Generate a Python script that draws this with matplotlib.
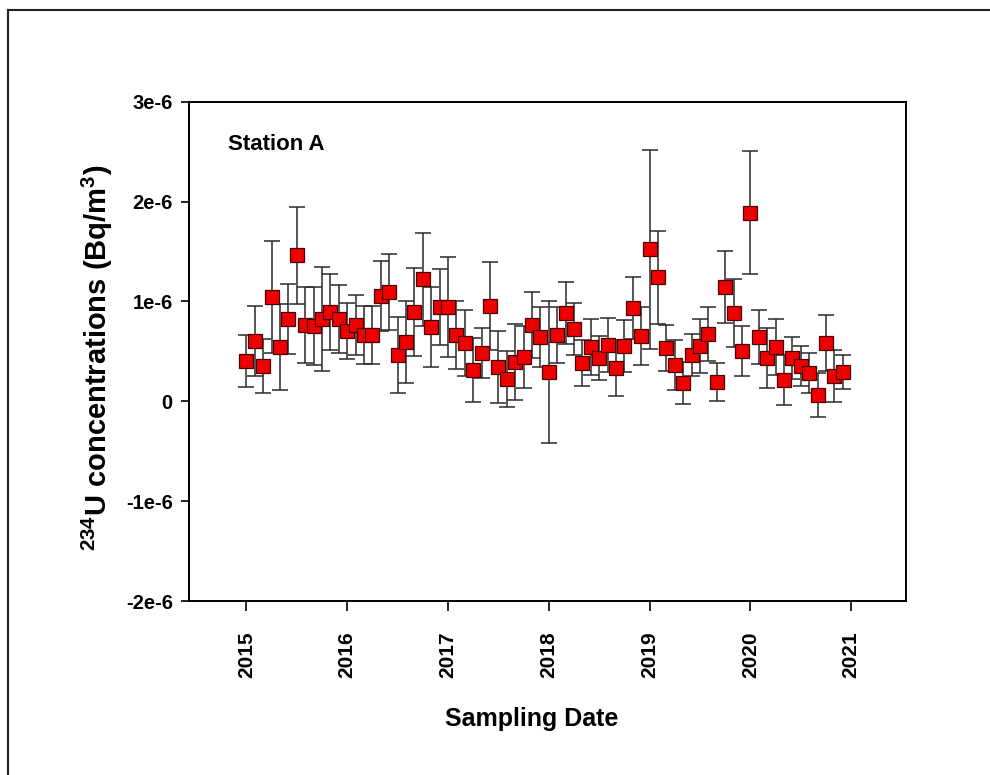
"""Station A 234U monthly concentrations with error bars."""
import numpy as np
import matplotlib
matplotlib.use("Agg")
import matplotlib.pyplot as plt
from matplotlib.lines import Line2D

plt.rcParams["font.family"] = ["Liberation Sans", "DejaVu Sans"]
plt.rcParams["font.weight"] = "bold"
plt.rcParams["mathtext.default"] = "regular"

# monthly samples, Jan 2015 .. Dec 2020 (values and 1-sigma in 1e-6 Bq/m3)
years = [2015, 2016, 2017, 2018, 2019, 2020]
conc_e6 = [
    0.40, 0.60, 0.35, 1.04, 0.54, 0.82, 1.46, 0.76, 0.75, 0.82, 0.89, 0.82,
    0.70, 0.76, 0.66, 0.66, 1.05, 1.09, 0.46, 0.59, 0.89, 1.22, 0.74, 0.94,
    0.94, 0.66, 0.58, 0.31, 0.48, 0.95, 0.34, 0.22, 0.39, 0.44, 0.76, 0.64,
    0.29, 0.66, 0.88, 0.72, 0.38, 0.54, 0.43, 0.56, 0.33, 0.55, 0.93, 0.65,
    1.52, 1.24, 0.53, 0.36, 0.18, 0.46, 0.55, 0.67, 0.19, 1.14, 0.88, 0.50,
    1.89, 0.64, 0.43, 0.54, 0.21, 0.43, 0.35, 0.28, 0.06, 0.58, 0.25, 0.29,
]
err_e6 = [
    0.26, 0.35, 0.27, 0.56, 0.43, 0.35, 0.49, 0.38, 0.39, 0.52, 0.38, 0.34,
    0.28, 0.30, 0.29, 0.29, 0.35, 0.38, 0.38, 0.41, 0.44, 0.47, 0.40, 0.38,
    0.50, 0.34, 0.33, 0.32, 0.25, 0.44, 0.36, 0.28, 0.38, 0.31, 0.33, 0.30,
    0.71, 0.28, 0.31, 0.26, 0.23, 0.28, 0.22, 0.27, 0.28, 0.26, 0.31, 0.29,
    1.00, 0.47, 0.23, 0.25, 0.21, 0.21, 0.27, 0.27, 0.19, 0.36, 0.34, 0.25,
    0.62, 0.27, 0.30, 0.28, 0.25, 0.21, 0.20, 0.20, 0.22, 0.28, 0.26, 0.17,
]
y_ticks = [-2e-6, -1e-6, 0, 1e-6, 2e-6, 3e-6]
y_ticklabels = ["-2e-6", "-1e-6", "0", "1e-6", "2e-6", "3e-6"]
x_ticks = [2015, 2016, 2017, 2018, 2019, 2020, 2021]

dates = np.array([y + m / 12 for y in years for m in range(12)])
conc = np.array(conc_e6) * 1e-6
err = np.array(err_e6) * 1e-6

fig = plt.figure(figsize=(9.9, 7.75), dpi=100)
ax = fig.add_axes([0.1914, 0.2245, 0.7238, 0.6443])

ax.errorbar(dates, conc, yerr=err, fmt="none", ecolor="#2a2a2a",
            elinewidth=1.1, capsize=5.5, capthick=1.1, zorder=2)
ax.plot(dates, conc, ls="none", marker="s", ms=9.7, mfc="#ee0000",
        mec="#4a0000", mew=0.9, zorder=3)

ax.set_xlim(2014.435, 2021.545)
ax.set_ylim(-2e-6, 3e-6)
ax.set_xticks(x_ticks)
ax.set_xticklabels([str(t) for t in x_ticks], rotation=90, fontsize=15,
                   fontweight="bold")
ax.set_yticks(y_ticks)
ax.set_yticklabels(y_ticklabels, fontsize=14.5, fontweight="bold")
ax.tick_params(axis="x", direction="out", length=7, width=1.2, pad=15)
ax.tick_params(axis="y", direction="out", length=6, width=1.2, pad=6)
for sp in ax.spines.values():
    sp.set_linewidth(1.4)

ax.text(0.054, 0.914, "Station A", transform=ax.transAxes, fontsize=16,
        fontweight="bold", va="center", ha="left")

ax.set_xlabel("Sampling Date", fontsize=18, fontweight="bold", va="top")
ax.xaxis.set_label_coords(0.478, -0.212)
ax.set_ylabel(r"$^{234}$U concentrations (Bq/m$^{3}$)", fontsize=21,
              fontweight="bold", va="center")
ax.yaxis.set_label_coords(-0.129, 0.487)

# thin frame left/top of the exported image
fig.add_artist(Line2D([8 / 990, 8 / 990], [0, 1 - 10 / 775],
                      transform=fig.transFigure, color="#222222", lw=1.5))
fig.add_artist(Line2D([8 / 990, 1], [1 - 10 / 775, 1 - 10 / 775],
                      transform=fig.transFigure, color="#222222", lw=1.5))

fig.savefig("out.png", dpi=100)
